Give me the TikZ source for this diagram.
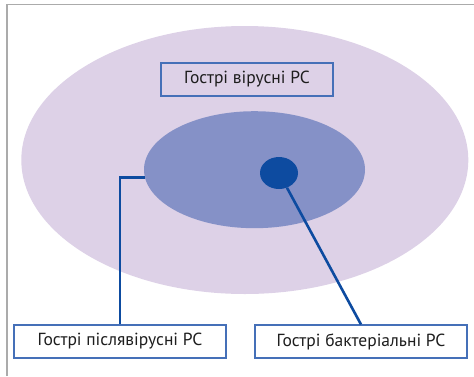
\documentclass[tikz,border=0pt]{standalone}
\usepackage{fontspec}
\setmainfont{PT Sans}
\usepackage{tikz}
\usetikzlibrary{shapes.geometric}
\definecolor{lilac}{HTML}{DDD1E7}
\definecolor{midblue}{HTML}{8591C7}
\definecolor{darkblue}{HTML}{0D4BA0}
\definecolor{boxblue}{HTML}{4570B8}
\definecolor{framegray}{HTML}{ABABAB}
\definecolor{txtgray}{HTML}{1E1E1E}
\tikzset{
 tag/.style={draw=boxblue,line width=1.1pt,inner sep=0pt,minimum height=33pt,
  text=txtgray,font=\fontsize{17.5}{20}\selectfont},
 blob/.style={ellipse,inner sep=0pt},
 link/.style={draw=darkblue,line width=2.6pt}
}

\begin{document}
\begin{tikzpicture}[x=1pt,y=-1pt]
\useasboundingbox (0,0) rectangle (474,376);
\draw[framegray,line width=1.6pt] (7,376) -- (7,4.5) -- (474,4.5);
% ellipses
\node[blob,fill=lilac,minimum width=447pt,minimum height=268pt] (outer) at (244.8,160) {};
\node[blob,fill=midblue,minimum width=221pt,minimum height=117pt] (inner) at (254.5,169.7) {};
\node[blob,fill=darkblue,minimum width=38pt,minimum height=32pt] (dot) at (279,173) {};
% labels
\node[tag,minimum width=172pt] (viral) at (247,79.5) {Гострі вірусні РС};
\node[tag,fill=white,minimum width=212pt] (post) at (120,341.5) {Гострі післявірусні РС};
\node[tag,fill=white,minimum width=212pt] (bact) at (361,341.5) {Гострі бактеріальні РС};
% connectors
\draw[link] (inner.184) -| (post.north);
\draw[link] (dot) -- (bact.north);
\end{tikzpicture}
\end{document}
